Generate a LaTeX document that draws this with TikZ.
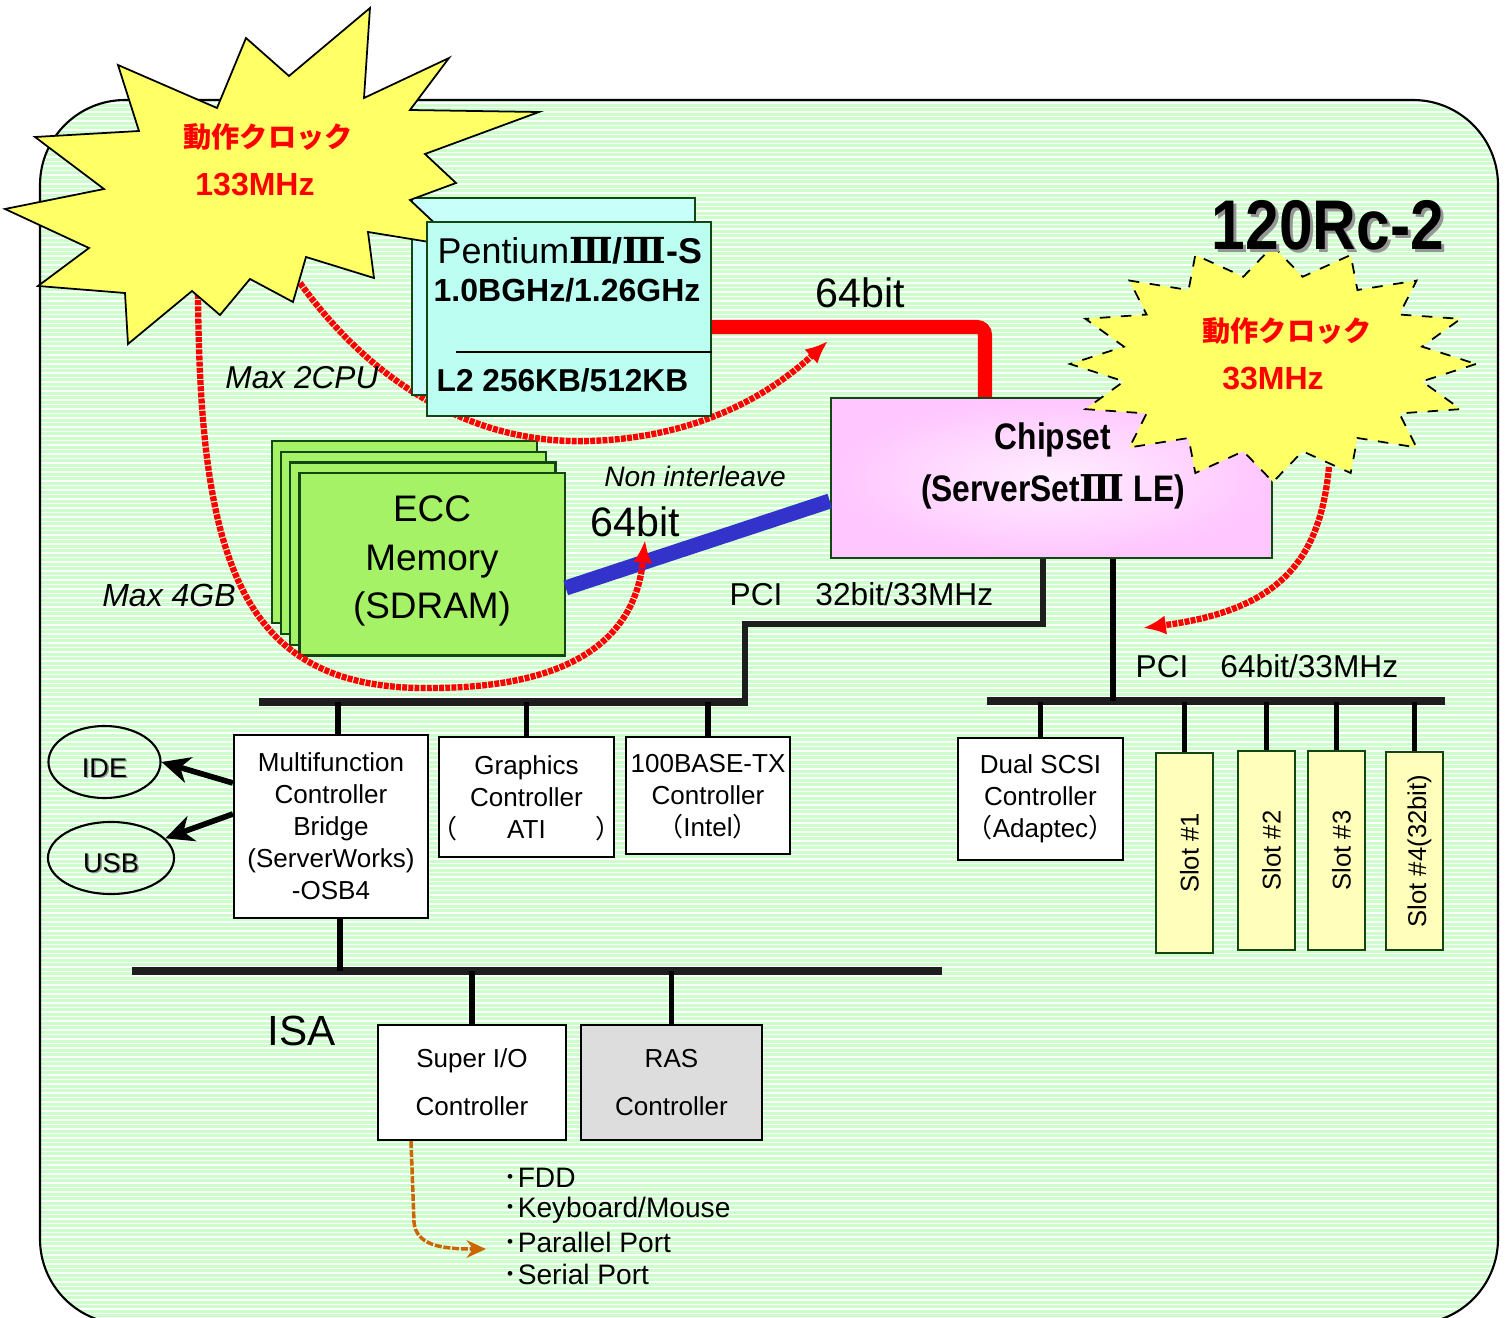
\documentclass[tikz,border=0pt]{standalone}
\usepackage{fontspec}
\setmainfont{Liberation Sans}
\newfontfamily\jpfont{Noto Sans CJK JP}
\newfontfamily\numeralfont{DejaVu Serif}
\newfontfamily\narrowfont[FakeStretch=0.86]{Liberation Sans}
\usetikzlibrary{arrows.meta,shapes.geometric}
\definecolor{boardgreen}{RGB}{204,255,204}
\definecolor{staryellow}{RGB}{255,255,102}
\definecolor{cpucyan}{RGB}{188,255,242}
\definecolor{cpucyanback}{RGB}{200,255,250}
\definecolor{edgegreen}{RGB}{20,70,20}
\definecolor{memgreen}{RGB}{166,242,102}
\definecolor{chippink}{RGB}{255,198,255}
\definecolor{chippinklight}{RGB}{255,238,255}
\definecolor{slotyellow}{RGB}{255,255,187}
\definecolor{rasgray}{RGB}{221,221,221}
\definecolor{membusblue}{RGB}{51,51,204}
\definecolor{clockred}{RGB}{255,0,0}
\definecolor{ioorange}{RGB}{204,102,0}
\definecolor{busblack}{RGB}{30,30,30}
\definecolor{shadowgray}{RGB}{150,150,150}

\begin{document}
\begin{tikzpicture}
    [x=0.01cm, y=-0.01cm,
     chip box/.style={draw=edgegreen, line width=0.6pt, inner sep=0pt},
     plain box/.style={draw=black, line width=0.6pt, fill=white, inner sep=0pt,
       align=center, font=\fontsize{7.4}{9.1}\selectfont},
     slot box/.style={chip box, fill=slotyellow, minimum width=0.57cm,
       minimum height=2cm, font=\fontsize{7.3}{9}\selectfont},
     io ellipse/.style={ellipse, draw=black, line width=0.6pt, inner sep=0pt,
       minimum height=0.72cm},
     plain text/.style={inner sep=0pt},
     bus line/.style={busblack, line width=2.3pt},
     drop line/.style={black, line width=1.7pt},
     io arrow/.style={black, line width=1.6pt,
       -{Stealth[length=8pt, width=7.5pt, inset=2.5pt]}},
     clock line/.style={clockred, line width=1.8pt, dash pattern=on 1.4pt off 0.35pt,
       -{Latex[length=6.5pt, width=5.5pt]}},
     clock star/.style={draw=black, line width=0.5pt, fill=staryellow},
     clock text/.style={clockred, inner sep=0pt,
       font=\jpfont\bfseries\fontsize{8}{9.6}\selectfont},
     clock freq/.style={clockred, inner sep=0pt,
       font=\bfseries\fontsize{9.1}{11}\selectfont}]
    \useasboundingbox (0,0) rectangle (1508,1318);
    % board
    \fill[boardgreen, rounded corners=0.85cm] (40,100) rectangle (1498,1324);
    \begin{scope}
      \clip[rounded corners=0.85cm] (40,100) rectangle (1498,1324);
      \foreach \y in {103,107.5,...,1322}
        \draw[white, line width=0.35pt] (40,\y) -- (1498,\y);
    \end{scope}
    \draw[line width=0.6pt, rounded corners=0.85cm] (40,100) rectangle (1498,1324);

    % memory and chipset
    \foreach \k in {0,1,2,3}
      \node[chip box, fill=memgreen, minimum width=2.65cm, minimum height=1.82cm]
        (mem\k) at ({404.5+9.2*\k},{532+10.8*\k}) {};
    \node[plain text, align=center, font=\fontsize{10.5}{13.7}\selectfont]
      (memtext) at (432,561) {ECC\\Memory\\(SDRAM)};
    \node[chip box, minimum width=4.41cm, minimum height=1.6cm, shading=radial,
      inner color=chippinklight, outer color=chippink] (chipset) at (1051.5,478) {};
    \node[plain text, align=center, font=\narrowfont\bfseries\fontsize{10.5}{14.8}\selectfont]
      (chiptext) at (1053,466) {Chipset\\(ServerSet{\numeralfont\bfseries Ⅲ} LE)};
    \draw[membusblue, line width=4.3pt] (mem3.east |- 0,588) -- (chipset.west |- 0,501);

    % clock lines
    \draw[clock line] (300,283) .. controls (370,380) and (470,445) .. (590,441)
      .. controls (710,437) and (780,385) .. (828,341);
    \draw[clock line] (198,294) .. controls (200,560) and (240,690) .. (430,688)
      .. controls (570,688) and (635,640) .. (645,540);
    \draw[clock line] (1329,467) .. controls (1320,560) and (1280,610) .. (1143,628);

    % cpu
    \node[chip box, fill=cpucyanback, minimum width=2.83cm, minimum height=1.97cm]
      (cpuback) at (553.5,296.5) {};
    \draw[clock star] (370,8) -- (364,98) -- (449,58) -- (410,110) -- (539,112)
      -- (425,154) -- (456,183) -- (410,200) -- (460,247) -- (368,232) -- (374,278)
      -- (306,257) -- (293,302) -- (250,279) -- (220,315) -- (192,291) -- (128,344)
      -- (125,293) -- (38,286) -- (89,248) -- (5,209) -- (104,189) -- (35,137)
      -- (139,131) -- (118,65) -- (217,108) -- (246,38) -- (289,76) -- cycle;
    \node[clock text] (clk1name) at (268,137) {動作クロック};
    \node[clock freq] (clk1freq) at (255,185) {133MHz};
    \node[chip box, fill=cpucyan, minimum width=2.84cm, minimum height=1.94cm]
      (cpu) at (569,319) {};
    \node[plain text, anchor=west, font=\fontsize{10.2}{12}\selectfont] (cpuname)
      at (437,251) {Pentium{\numeralfont\bfseries Ⅲ}\textbf{/}{\numeralfont\bfseries Ⅲ}\textbf{-S}};
    \node[plain text, anchor=west, font=\bfseries\fontsize{9.1}{11}\selectfont] (cpuclock)
      at (433,290) {1.0BGHz/1.26GHz};
    \draw[line width=0.6pt] (456,352) -- (cpu.east |- 0,352);
    \node[plain text, anchor=west, font=\bfseries\fontsize{9}{11}\selectfont] (cpucache)
      at (436,380) {L2 256KB/512KB};
    \draw[clockred, line width=4pt, rounded corners=0.08cm]
      (cpu.east |- 0,327) -| (985,0 |- chipset.north);

    % chipset clock
    \draw[clock star, dashed] (1476,364)
      \foreach \k [evaluate=\k as \ra using {mod(\k,2)==0 ? 203 : 152},
                   evaluate=\k as \rb using {mod(\k,2)==0 ? 118 : 89}] in {1,...,31}
        { -- ({1273+\ra*cos(11.25*\k)},{364+\rb*sin(11.25*\k)}) } -- cycle;
    \node[clock text] (clk2name) at (1287,331) {動作クロック};
    \node[clock freq] (clk2freq) at (1273,379) {33MHz};
    \node[plain text, shadowgray, font=\narrowfont\bfseries\fontsize{20}{24}\selectfont]
      (modelshadow) at (1331,228) {120Rc-2};
    \node[plain text, font=\narrowfont\bfseries\fontsize{20}{24}\selectfont]
      (model) at (1328,225) {120Rc-2};

    % labels
    \node[plain text, font=\fontsize{11.7}{14}\selectfont] (fsbwidth) at (860,293) {64bit};
    \node[plain text, font=\itshape\fontsize{8}{10}\selectfont] (memmode) at (695,476) {Non interleave};
    \node[plain text, font=\fontsize{11.7}{14}\selectfont] (memwidth) at (635,522) {64bit};
    \node[plain text, font=\itshape\fontsize{9}{11}\selectfont] (maxcpu) at (302,378) {Max 2CPU};
    \node[plain text, font=\itshape\fontsize{9.1}{11}\selectfont] (maxmem) at (169,595) {Max 4GB};
    \node[plain text, anchor=west, font=\fontsize{9}{10}\selectfont] (pcil-label)
      at (729,594) {PCI\hspace{0.33cm}32bit/33MHz};
    \node[plain text, anchor=west, font=\fontsize{9}{10}\selectfont] (pcir-label)
      at (1135,666) {PCI\hspace{0.32cm}64bit/33MHz};
    \node[plain text, font=\fontsize{12}{14}\selectfont] (isa-label) at (302,1031) {ISA};

    % pci buses
    \coordinate (pciL-w) at (259,702);
    \coordinate (pciL-e) at (748,702);
    \coordinate (pciR-w) at (987,701);
    \coordinate (pciR-e) at (1445,701);
    \coordinate (isa-w) at (132,971);
    \coordinate (isa-e) at (942,971);
    \draw[bus line] (pciL-w) -- (pciL-e);
    \draw[bus line] (pciR-w) -- (pciR-e);
    \draw[bus line] (isa-w) -- (isa-e);
    \draw[busblack, line width=1.8pt] (1043,0 |- chipset.south) |- (745,624)
      -- (745,0 |- pciL-e);
    \draw[drop line] (1113,0 |- chipset.south) -- (1113,0 |- pciR-w);

    % pci devices
    \node[plain box, minimum width=1.94cm, minimum height=1.83cm] (mfc) at (331,826.5)
      {Multifunction\\Controller\\Bridge\\(ServerWorks)\\-OSB4};
    \node[plain box, minimum width=1.75cm, minimum height=1.2cm] (gfx) at (526.5,797)
      {Graphics\\Controller\\\makebox[1.5cm]{\hspace{-0.2cm}\smash{\jpfont （}\hfill ATI\hfill\smash{\jpfont ）}\hspace{-0.2cm}}};
    \node[plain box, minimum width=1.64cm, minimum height=1.17cm] (nic) at (708,795.5)
      {100BASE-TX\\Controller\\\smash{\jpfont （}Intel\smash{\jpfont ）}};
    \node[plain box, minimum width=1.65cm, minimum height=1.22cm] (scsi) at (1040.5,799)
      {Dual SCSI\\Controller\\\smash{\jpfont （}Adaptec\smash{\jpfont ）}};
    \node[slot box] (slot1) at (1184.5,853) {\hspace{0.1cm}\rotatebox{90}{Slot \#1}};
    \node[slot box, minimum height=1.99cm] (slot2) at (1266.5,850.5) {\hspace{0.1cm}\rotatebox{90}{Slot \#2}};
    \node[slot box, minimum height=1.99cm] (slot3) at (1336.5,850.5) {\hspace{0.1cm}\rotatebox{90}{Slot \#3}};
    \node[slot box, minimum height=1.98cm] (slot4) at (1414.5,851) {\hspace{0.1cm}\rotatebox{90}{Slot \#4(32bit)}};
    \foreach \dev in {gfx,nic,scsi,slot1,slot2,slot3,slot4}
      \draw[drop line] (\dev.north) -- (\dev.north |- pciL-w);
    \draw[drop line] (338,0 |- mfc.north) -- (338,0 |- pciL-w);
    \draw[drop line] (340,0 |- mfc.south) -- (340,0 |- isa-w);

    % ide and usb
    \node[io ellipse, minimum width=1.12cm] (ide) at (104.5,762) {};
    \node[io ellipse, minimum width=1.26cm] (usb) at (111,858) {};
    \foreach \port/\px/\py in {IDE/104.5/768, USB/111/863} {
      \node[plain text, shadowgray, font=\fontsize{7.7}{9}\selectfont] at (\px+1.5,\py+1.5) {\port};
      \node[plain text, font=\fontsize{7.7}{9}\selectfont] (\port-text) at (\px,\py) {\port};
    }
    \draw[io arrow] (mfc.west |- 0,783) -- (ide.east);
    \draw[io arrow] (mfc.west |- 0,814) -- (usb.20);

    % isa devices
    \node[plain box, minimum width=1.88cm, minimum height=1.15cm,
      font=\fontsize{7.4}{13.66}\selectfont] (superio) at (472,1082.5) {Super I/O\\Controller};
    \node[plain box, fill=rasgray, minimum width=1.81cm, minimum height=1.15cm,
      font=\fontsize{7.4}{13.66}\selectfont] (ras) at (671.5,1082.5) {RAS\\Controller};
    \draw[drop line] (superio.north) -- (superio.north |- isa-w);
    \draw[drop line] (ras.north) -- (ras.north |- isa-w);

    % super i/o ports
    \node[plain text, anchor=west, font=\fontsize{8}{9}\selectfont] (port1) at (503,1178) {{\jpfont ･}FDD};
    \node[plain text, anchor=west, font=\fontsize{8}{9}\selectfont] (port2) at (503,1210) {{\jpfont ･}Keyboard/Mouse};
    \node[plain text, anchor=west, font=\fontsize{8}{9}\selectfont] (port3) at (503,1242) {{\jpfont ･}Parallel Port};
    \node[plain text, anchor=west, font=\fontsize{8}{9}\selectfont] (port4) at (503,1274) {{\jpfont ･}Serial Port};
    \coordinate (porttip) at (486,1249);
    \draw[ioorange, line width=1pt, dash pattern=on 2pt off 0.5pt,
      -{Stealth[length=5.5pt, width=5pt]}]
      (411,0 |- superio.south) -- (414,1222) .. controls (416,1245) and (440,1249) .. (porttip);
  \end{tikzpicture}
\end{document}
